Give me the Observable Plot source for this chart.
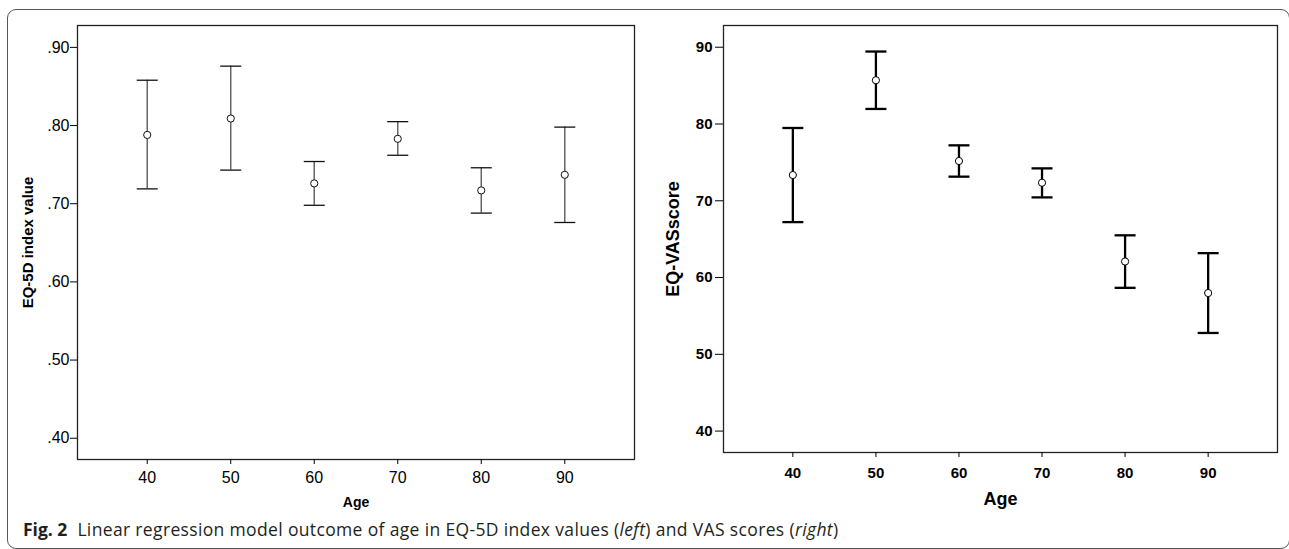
<!DOCTYPE html>
<html>
<head>
<meta charset="utf-8">
<script src="https://cdn.jsdelivr.net/npm/d3@7"></script>
<script src="https://cdn.jsdelivr.net/npm/@observablehq/plot@0.6"></script>
<style>
  html, body { margin: 0; padding: 0; background: #fff; }
  body { width: 1289px; height: 549px; overflow: hidden; position: relative; font-family: "Liberation Sans", Arial, sans-serif; }
  #frame { position: absolute; left: 7px; top: 9px; width: 1283px; height: 540px; border: 1px solid #555; border-radius: 9px; box-sizing: border-box; }
  #left { position: absolute; left: 0; top: 0; }
  #right { position: absolute; left: 645px; top: 0; }
  #caption { position: absolute; left: 23px; top: 521px; font-family: "Open Sans", sans-serif; font-size: 17.5px; letter-spacing: 0.35px; line-height: 16px; color: #231f20; white-space: nowrap; }
  #caption b { margin-right: 10px; letter-spacing: 0; }
</style>
</head>
<body>
<div id="frame"></div>
<div id="left"></div>
<div id="right"></div>
<div id="caption"><b>Fig. 2</b>Linear regression model outcome of age in EQ-5D index values (<i>left</i>) and VAS scores (<i>right</i>)</div>
<script>
const ages = [40, 50, 60, 70, 80, 90];
const eqMean = [0.788, 0.809, 0.726, 0.783, 0.717, 0.737];
const eqLow = [0.719, 0.743, 0.698, 0.762, 0.688, 0.676];
const eqHigh = [0.858, 0.876, 0.754, 0.805, 0.746, 0.798];
const vasMean = [73.35, 85.7, 75.18, 72.35, 62.09, 57.98];
const vasLow = [67.22, 81.96, 73.14, 70.44, 58.66, 52.78];
const vasHigh = [79.48, 89.44, 77.22, 74.22, 65.5, 63.18];
const ageTicks = [40, 50, 60, 70, 80, 90];
const eqTicks = [0.4, 0.5, 0.6, 0.7, 0.8, 0.9];
const vasTicks = [40, 50, 60, 70, 80, 90];
const ageDomain = [31.65, 98.35];
const eqDomain = [0.3728, 0.928];
const vasDomain = [37.21, 92.83];

const eqData = ages.map((a, i) => ({age: a, mean: eqMean[i], low: eqLow[i], high: eqHigh[i]}));
const vasData = ages.map((a, i) => ({age: a, mean: vasMean[i], low: vasLow[i], high: vasHigh[i]}));

// horizontal cap symbol (pixel-space)
const capSymbol = {
  draw(context, size) {
    const w = Math.sqrt(size / Math.PI);
    context.moveTo(-w, 0);
    context.lineTo(w, 0);
  }
};

const font = "'Liberation Sans', Arial, sans-serif";

const left = Plot.plot({
  width: 645, height: 515,
  marginLeft: 77, marginTop: 25, marginRight: 11, marginBottom: 56,
  style: {fontFamily: font, fontSize: "16px", color: "#000", background: "transparent"},
  x: {domain: ageDomain, label: null},
  y: {domain: eqDomain, label: null},
  marks: [
    Plot.frame({stroke: "#222", strokeWidth: 1.3}),
    Plot.axisX({ticks: ageTicks, tickSize: 5, tickPadding: 7, label: null}),
    Plot.axisY({ticks: eqTicks, tickSize: 7, tickPadding: 1, label: null,
      tickFormat: d => d.toFixed(2).replace(/^0/, "")}),
    Plot.ruleX(eqData, {x: "age", y1: "low", y2: "high", stroke: "#666", strokeWidth: 1.5}),
    Plot.dot(eqData, {x: "age", y: "low", symbol: capSymbol, r: 10.5, stroke: "#111", strokeWidth: 1.3, fill: "none"}),
    Plot.dot(eqData, {x: "age", y: "high", symbol: capSymbol, r: 10.5, stroke: "#111", strokeWidth: 1.3, fill: "none"}),
    Plot.dot(eqData, {x: "age", y: "mean", r: 3.6, stroke: "#111", strokeWidth: 1, fill: "white"}),
    Plot.text(["Age"], {text: d => d, frameAnchor: "bottom", textAnchor: "middle", dy: 47, fontSize: 14, fontWeight: "bold"}),
    Plot.text(["EQ-5D index value"], {text: d => d, frameAnchor: "left", textAnchor: "middle", dx: -49, rotate: -90, fontSize: 15, fontWeight: "bold"})
  ]
});
document.getElementById("left").appendChild(left);

const right = Plot.plot({
  width: 644, height: 515,
  marginLeft: 78, marginTop: 25, marginRight: 12, marginBottom: 63,
  style: {fontFamily: font, fontSize: "15px", fontWeight: "bold", color: "#000", background: "transparent"},
  x: {domain: ageDomain, label: null},
  y: {domain: vasDomain, label: null},
  marks: [
    Plot.frame({stroke: "#222", strokeWidth: 1.3}),
    Plot.axisX({ticks: ageTicks, tickSize: 5, tickPadding: 10, label: null}),
    Plot.axisY({ticks: vasTicks, tickSize: 8, tickPadding: 3, label: null}),
    Plot.ruleX(vasData, {x: "age", y1: "low", y2: "high", stroke: "#000", strokeWidth: 2.3}),
    Plot.dot(vasData, {x: "age", y: "low", symbol: capSymbol, r: 10.5, stroke: "#000", strokeWidth: 2.3, fill: "none"}),
    Plot.dot(vasData, {x: "age", y: "high", symbol: capSymbol, r: 10.5, stroke: "#000", strokeWidth: 2.3, fill: "none"}),
    Plot.dot(vasData, {x: "age", y: "mean", r: 3.6, stroke: "#000", strokeWidth: 1, fill: "white"}),
    Plot.text(["Age"], {text: d => d, frameAnchor: "bottom", textAnchor: "middle", dy: 52, fontSize: 18, fontWeight: "bold"}),
    Plot.text(["EQ-VASscore"], {text: d => d, frameAnchor: "left", textAnchor: "middle", dx: -50, rotate: -90, fontSize: 18, fontWeight: "bold"})
  ]
});
document.getElementById("right").appendChild(right);
</script>
</body>
</html>
